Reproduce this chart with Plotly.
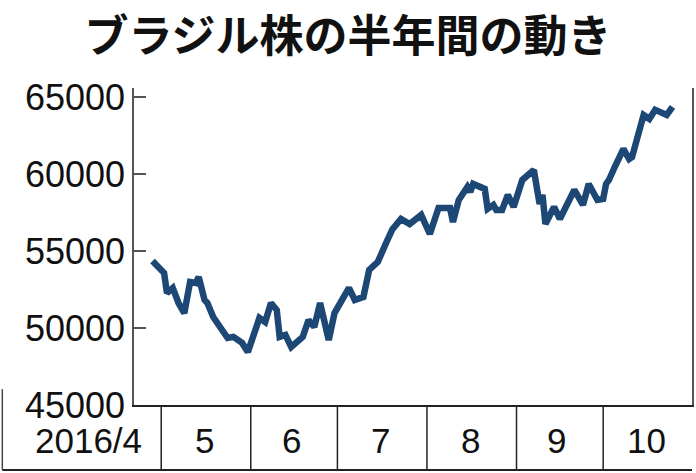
import plotly.graph_objects as go

# Bovespa index, roughly late Apr to late Oct 2016
dates = [
    "2016-04-28", "2016-05-02", "2016-05-03", "2016-05-05", "2016-05-07", "2016-05-09",
    "2016-05-11", "2016-05-13", "2016-05-14", "2016-05-16", "2016-05-17", "2016-05-19",
    "2016-05-24", "2016-05-26", "2016-05-29", "2016-05-31", "2016-06-04", "2016-06-06",
    "2016-06-08", "2016-06-10", "2016-06-11", "2016-06-13", "2016-06-15", "2016-06-19",
    "2016-06-21", "2016-06-23", "2016-06-25", "2016-06-28", "2016-06-30", "2016-07-05",
    "2016-07-07", "2016-07-10", "2016-07-12", "2016-07-15", "2016-07-18", "2016-07-20",
    "2016-07-23", "2016-07-26", "2016-07-30", "2016-08-02", "2016-08-05", "2016-08-09",
    "2016-08-10", "2016-08-12", "2016-08-15", "2016-08-16", "2016-08-17", "2016-08-21",
    "2016-08-22", "2016-08-24", "2016-08-25", "2016-08-27", "2016-08-29", "2016-08-31",
    "2016-09-03", "2016-09-04", "2016-09-07", "2016-09-09", "2016-09-10", "2016-09-11",
    "2016-09-14", "2016-09-16", "2016-09-21", "2016-09-24", "2016-09-26", "2016-09-29",
    "2016-10-01", "2016-10-02", "2016-10-03", "2016-10-05", "2016-10-08", "2016-10-10",
    "2016-10-11", "2016-10-15", "2016-10-17", "2016-10-19", "2016-10-23", "2016-10-25",
]
values = [
    54350, 53570, 52270, 52600, 51620, 50970,
    52990, 52920, 53310, 51820, 51620, 50710,
    49350, 49420, 49030, 48440, 50650, 50390,
    51620, 51170, 49420, 49550, 48770, 49420,
    50520, 50060, 51620, 49220, 50970, 52600,
    51820, 52010, 53770, 54290, 55580, 56400,
    57080, 56750, 57340, 56100, 57790, 57790,
    56880, 58310, 59160, 58830, 59350, 59030,
    57730, 57990, 57660, 57660, 58640, 57860,
    59610, 59810, 60260, 58050, 58640, 56750,
    57860, 57080, 58960, 57990, 59350, 58310,
    58380, 59350, 59610, 60450, 61620, 60970,
    61100, 63830, 63570, 64160, 63830, 64350,
]

y_ticks = [45000, 50000, 55000, 60000, 65000]
month_starts = ["2016-05-01", "2016-06-01", "2016-07-01", "2016-08-01", "2016-09-01", "2016-10-01"]
month_mids = ["2016-05-16", "2016-06-15", "2016-07-16", "2016-08-16", "2016-09-15", "2016-10-16"]
month_labels = ["5", "6", "7", "8", "9", "10"]

row_bottom = -0.205
frame_left = -0.236

fig = go.Figure()
fig.add_trace(go.Scatter(
    x=dates, y=values, mode="lines",
    line=dict(color="#1d4775", width=6.5),
    hoverinfo="skip",
))

shapes = []
for d in month_starts:
    shapes.append(dict(type="line", xref="x", yref="paper", x0=d, x1=d,
                       y0=0, y1=row_bottom, line=dict(color="#222", width=1.5)))
shapes.append(dict(type="line", xref="paper", yref="paper", x0=frame_left, x1=1,
                   y0=row_bottom, y1=row_bottom, line=dict(color="#222", width=2)))
shapes.append(dict(type="line", xref="paper", yref="paper", x0=frame_left, x1=frame_left,
                   y0=row_bottom, y1=0.05, line=dict(color="#444", width=1.5)))

annotations = [dict(text="2016/4", xref="paper", yref="paper", x=-0.082, y=row_bottom / 2 - 0.01,
                    xanchor="center", yanchor="middle", showarrow=False, font=dict(size=35))]
for d, lab in zip(month_mids, month_labels):
    annotations.append(dict(text=lab, xref="x", yref="paper", x=d, y=row_bottom / 2 - 0.01,
                            xanchor="center", yanchor="middle", showarrow=False,
                            font=dict(size=35)))

fig.update_layout(
    width=696, height=473,
    margin=dict(l=134, r=2, t=88, b=68),
    paper_bgcolor="white", plot_bgcolor="white",
    showlegend=False,
    font=dict(family="Liberation Sans Narrow, Liberation Sans, Arial", color="#111"),
    title=dict(text="<b>ブラジル株の半年間の動き</b>", x=0.5, xanchor="center",
               y=0.955, yanchor="top",
               font=dict(family="Noto Sans CJK JP", size=44, color="#111")),
    shapes=shapes, annotations=annotations,
)
fig.update_xaxes(type="date", range=["2016-04-21 14:00", "2016-10-31 18:00"],
                 showticklabels=False, ticks="", showgrid=False, zeroline=False,
                 showline=True, linecolor="#222", linewidth=1.5)
fig.update_yaxes(range=[45000, 65580], tickvals=y_ticks, ticktext=[str(v) for v in y_ticks],
                 ticks="inside", ticklen=12, tickcolor="#555", tickwidth=1.5,
                 showgrid=False, zeroline=False, showline=True, mirror=True,
                 linecolor="#555", linewidth=1.5, tickfont=dict(size=36))

fig.write_html("out.html", config={"displayModeBar": False},
               post_script="document.body.style.margin='0';")
